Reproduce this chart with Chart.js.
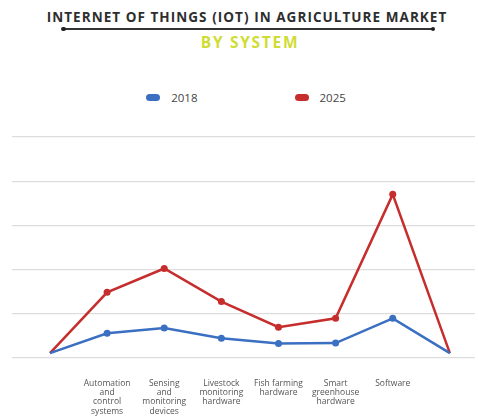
<!DOCTYPE html>
<html>
<head>
<meta charset="utf-8">
<script src="https://cdn.jsdelivr.net/npm/chart.js@4"></script>
<style>
  html, body { margin: 0; padding: 0; background: #fff; }
  body { width: 478px; height: 417px; position: relative; overflow: hidden; font-family: "Open Sans", sans-serif; }
  .title { position: absolute; top: 8px; left: 8px; width: 478px; text-align: center;
           font-weight: 700; font-size: 13.5px; color: #2e2e2e; letter-spacing: 1.05px; }
  .rule { position: absolute; top: 28px; left: 63px; width: 370px; height: 1.5px; background: #333; }
  .rule::before, .rule::after { content: ''; position: absolute; top: -1.5px; width: 4.5px; height: 4.5px;
           border-radius: 50%; background: #222; }
  .rule::before { left: -2px; }
  .rule::after { right: -2px; }
  .subtitle { position: absolute; top: 31px; left: 11px; width: 478px; text-align: center;
              font-weight: 700; font-size: 15.5px; color: #cfdc33; letter-spacing: 1.7px; }
  #legend { position: absolute; top: 90px; left: 7px; width: 478px; display: flex; justify-content: center;
            gap: 97px; font-size: 11.5px; color: #444; }
  #legend span.item { display: flex; align-items: center; }
  #legend i { display: inline-block; width: 14px; height: 7px; border-radius: 4px; margin-right: 11px; }
  canvas { position: absolute; top: 115px; left: 0; }
</style>
</head>
<body>
<div class="title">INTERNET OF THINGS (IOT) IN AGRICULTURE MARKET</div>
<div class="rule"></div>
<div class="subtitle">BY SYSTEM</div>
<div id="legend"></div>
<canvas id="chart" width="478" height="314"></canvas>
<script>
// Catégories : la première et la dernière restent vides, la courbe part et
// revient vers le bas sans étiquette.
const categories = [
    '',
    ['Automation', 'and', 'control', 'systems'],
    ['Sensing', 'and', 'monitoring', 'devices'],
    ['Livestock', 'monitoring', 'hardware'],
    ['Fish farming', 'hardware'],
    ['Smart', 'greenhouse', 'hardware'],
    ['Software'],
    ''
];
const values2018 = [0.1, 0.55, 0.67, 0.44, 0.32, 0.33, 0.89, 0.1];
const values2025 = [0.1, 1.48, 2.02, 1.27, 0.69, 0.89, 3.70, 0.1];
const yTicks = [0, 1, 2, 3, 4, 5];

const blue = '#3b6fc2';
const red  = '#c62d2d';

function toPoints(values) {
    return values.map((v, i) => ({ x: i, y: v }));
}

// Pas de point aux extrémités, seulement sur les catégories nommées.
function radius(ctx) {
    const last = categories.length - 1;
    return (ctx.dataIndex === 0 || ctx.dataIndex === last) ? 0 : 3.5;
}

const chart = new Chart(document.getElementById('chart'), {
    type: 'line',
    data: {
        datasets: [
            { label: '2018', data: toPoints(values2018), borderColor: blue, backgroundColor: blue,
              borderWidth: 2.5, pointRadius: radius, pointBorderWidth: 0, tension: 0 },
            { label: '2025', data: toPoints(values2025), borderColor: red, backgroundColor: red,
              borderWidth: 2.5, pointRadius: radius, pointBorderWidth: 0, tension: 0 }
        ]
    },
    options: {
        responsive: false,
        animation: false,
        layout: { padding: { top: 22, left: 12, right: 3, bottom: 0 } },
        plugins: { legend: { display: false }, tooltip: { enabled: false } },
        scales: {
            x: {
                type: 'linear',
                min: -0.665,
                max: 7.44,
                grid: { display: false },
                border: { display: false },
                afterBuildTicks: function (scale) {
                    scale.ticks = categories
                        .map((c, i) => ({ value: i }))
                        .filter(t => categories[t.value] !== '');
                },
                ticks: {
                    autoSkip: false,
                    maxRotation: 0,
                    padding: 13,
                    color: '#555',
                    font: { family: 'Open Sans', size: 8.5, lineHeight: 1.1 },
                    callback: function (value) { return categories[value] || ''; }
                }
            },
            y: {
                min: yTicks[0],
                max: yTicks[yTicks.length - 1],
                afterBuildTicks: function (scale) {
                    scale.ticks = yTicks.map(v => ({ value: v }));
                },
                border: { display: false },
                grid: { color: '#dddddd', lineWidth: 1.2, drawTicks: false },
                ticks: { display: false }
            }
        }
    }
});

// Légende en HTML : les deux entrées sont très espacées.
const legend = document.getElementById('legend');
chart.data.datasets.forEach(ds => {
    const item = document.createElement('span');
    item.className = 'item';
    const swatch = document.createElement('i');
    swatch.style.background = ds.borderColor;
    item.appendChild(swatch);
    item.appendChild(document.createTextNode(ds.label));
    legend.appendChild(item);
});
</script>
</body>
</html>
